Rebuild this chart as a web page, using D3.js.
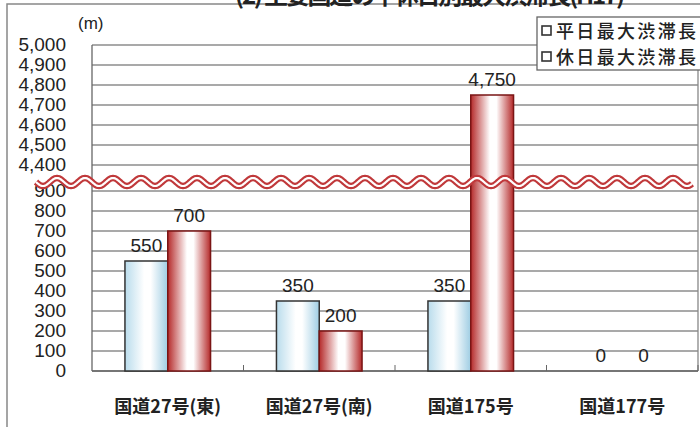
<!DOCTYPE html>
<html>
<head>
<meta charset="utf-8">
<script src="https://cdn.jsdelivr.net/npm/d3@7"></script>
<style>
  body { margin: 0; background: #fff; }
  svg { display: block; }
</style>
</head>
<body>
<svg id="chart" width="700" height="427"></svg>
<script>
// data
var categories = ["国道27号(東)", "国道27号(南)", "国道175号", "国道177号"];
var weekdayMax = [550, 350, 350, 0];
var holidayMax = [700, 200, 4750, 0];
var seriesNames = ["平日最大渋滞長", "休日最大渋滞長"];
var lowerTicks = [0, 100, 200, 300, 400, 500, 600, 700, 800, 900];
var upperTicks = [4400, 4500, 4600, 4700, 4800, 4900, 5000];

var svg = d3.select("#chart");
var plotLeft = 92, plotRight = 698, plotBottom = 371, plotTop = 45;
var numFont = "'Liberation Sans', Arial, sans-serif";
var jpFont = "'Noto Sans CJK JP', sans-serif";

// broken axis: 0-900 below the wave, 4400-5000 above it
var y = d3.scaleLinear()
    .domain([0, 900, 4400, 5000])
    .range([plotBottom, 191, 165, plotTop]);

var x0 = d3.scaleBand().domain(categories).range([plotLeft, plotRight]);
var x1 = d3.scaleBand().domain([0, 1]).range([0, x0.bandwidth()]).paddingOuter(0.77);

var defs = svg.append("defs");
function grad(id, edgeL, edgeR) {
    var g = defs.append("linearGradient").attr("id", id)
        .attr("x1", "0%").attr("x2", "100%").attr("y1", "0%").attr("y2", "0%");
    g.append("stop").attr("offset", "0%").attr("stop-color", edgeL);
    g.append("stop").attr("offset", "45%").attr("stop-color", "#ffffff");
    g.append("stop").attr("offset", "60%").attr("stop-color", "#ffffff");
    g.append("stop").attr("offset", "100%").attr("stop-color", edgeR);
}
grad("gBlue", "#b9dcec", "#9fcde3");
grad("gRed", "#b52a2a", "#b52a2a");

// outer frame and the cut-off title
svg.append("rect").attr("x", 7).attr("y", 4).attr("width", 720).attr("height", 450)
    .attr("fill", "none").attr("stroke", "#888").attr("stroke-width", 1.5);
svg.append("text").attr("x", 430).attr("y", 4).attr("text-anchor", "middle")
    .attr("font-family", jpFont).attr("font-weight", "bold").attr("font-size", 24)
    .attr("textLength", 390).attr("fill", "#222")
    .text("(2) 主要国道の平休日別最大渋滞長(H17)");

// gridlines
var grid = svg.append("g");
grid.selectAll("line").data(lowerTicks.concat(upperTicks)).join("line")
    .attr("x1", plotLeft).attr("x2", plotRight)
    .attr("y1", function (d) { return y(d); })
    .attr("y2", function (d) { return y(d); })
    .attr("stroke", "#8c8c8c").attr("stroke-width", 1.3);

// plot frame
svg.append("line").attr("x1", plotLeft).attr("x2", plotLeft).attr("y1", plotTop).attr("y2", plotBottom)
    .attr("stroke", "#666").attr("stroke-width", 1.3);
svg.append("line").attr("x1", plotRight).attr("x2", plotRight).attr("y1", plotTop).attr("y2", plotBottom)
    .attr("stroke", "#888").attr("stroke-width", 1.3);
svg.append("line").attr("x1", plotLeft).attr("x2", plotRight).attr("y1", plotBottom).attr("y2", plotBottom)
    .attr("stroke", "#666").attr("stroke-width", 1.5);

// category tick marks
svg.selectAll(".ctick").data(categories.slice(1).concat(["end"])).join("line")
    .attr("class", "ctick")
    .attr("x1", function (d, i) { return plotLeft + x0.bandwidth() * (i + 1); })
    .attr("x2", function (d, i) { return plotLeft + x0.bandwidth() * (i + 1); })
    .attr("y1", plotBottom - 6).attr("y2", plotBottom)
    .attr("stroke", "#666");

// y labels
svg.selectAll(".ylab").data(lowerTicks.concat(upperTicks)).join("text")
    .attr("class", "ylab")
    .attr("x", 66).attr("y", function (d) { return y(d) + 6; })
    .attr("text-anchor", "end")
    .attr("font-family", numFont).attr("font-size", 19).attr("fill", "#222")
    .text(function (d) { return d3.format(",")(d); });

svg.append("text").attr("x", 78).attr("y", 29)
    .attr("font-family", numFont).attr("font-size", 17).attr("fill", "#222")
    .text("(m)");

// bars
var bars = [];
categories.forEach(function (c, i) {
    bars.push({ cat: c, s: 0, v: weekdayMax[i] });
    bars.push({ cat: c, s: 1, v: holidayMax[i] });
});

svg.selectAll(".bar").data(bars.filter(function (d) { return d.v > 0; })).join("rect")
    .attr("class", "bar")
    .attr("x", function (d) { return x0(d.cat) + x1(d.s); })
    .attr("width", x1.bandwidth())
    .attr("y", function (d) { return y(d.v); })
    .attr("height", function (d) { return plotBottom - y(d.v); })
    .attr("fill", function (d) { return d.s == 0 ? "url(#gBlue)" : "url(#gRed)"; })
    .attr("stroke", function (d) { return d.s == 0 ? "#333" : "#7a1515"; })
    .attr("stroke-width", 1.5);

svg.selectAll(".vlab").data(bars).join("text")
    .attr("class", "vlab")
    .attr("x", function (d) { return x0(d.cat) + x1(d.s) + x1.bandwidth() / 2; })
    .attr("y", function (d) { return y(d.v) - 9; })
    .attr("text-anchor", "middle")
    .attr("font-family", numFont).attr("font-size", 19).attr("fill", "#222")
    .text(function (d) { return d3.format(",")(d.v); });

// the wavy break line
var waveY = 182, amp = 4, period = 28;
var pts = [];
for (var px = 36; px <= 692; px += 1) {
    pts.push([px, waveY + amp * Math.sin((px - 36) / period * 2 * Math.PI)]);
}
var wave = d3.line();
svg.append("path").attr("d", wave(pts)).attr("fill", "none")
    .attr("stroke", "#c0393b").attr("stroke-width", 6.5);
svg.append("path").attr("d", wave(pts)).attr("fill", "none")
    .attr("stroke", "#fff").attr("stroke-width", 2.2);

// category labels
svg.selectAll(".clab").data(categories).join("text")
    .attr("class", "clab")
    .attr("x", function (d) { return x0(d) + x0.bandwidth() / 2; })
    .attr("y", 413)
    .attr("text-anchor", "middle")
    .attr("font-family", jpFont).attr("font-weight", "bold").attr("font-size", 18).attr("fill", "#222")
    .text(function (d) { return d; });

// legend
var lg = svg.append("g");
lg.append("rect").attr("x", 537).attr("y", 17).attr("width", 165).attr("height", 53)
    .attr("fill", "#fff").attr("stroke", "#666").attr("stroke-width", 1.3);
seriesNames.forEach(function (name, i) {
    var ly = 31 + i * 26;
    lg.append("rect").attr("x", 542).attr("y", ly - 5).attr("width", 9).attr("height", 9)
        .attr("fill", "#fff").attr("stroke", "#333").attr("stroke-width", 1.6);
    lg.append("text").attr("x", 556).attr("y", ly + 7)
        .attr("font-family", jpFont).attr("font-weight", 500).attr("font-size", 18)
        .attr("textLength", 140).attr("fill", "#222")
        .text(name);
});
</script>
</body>
</html>
